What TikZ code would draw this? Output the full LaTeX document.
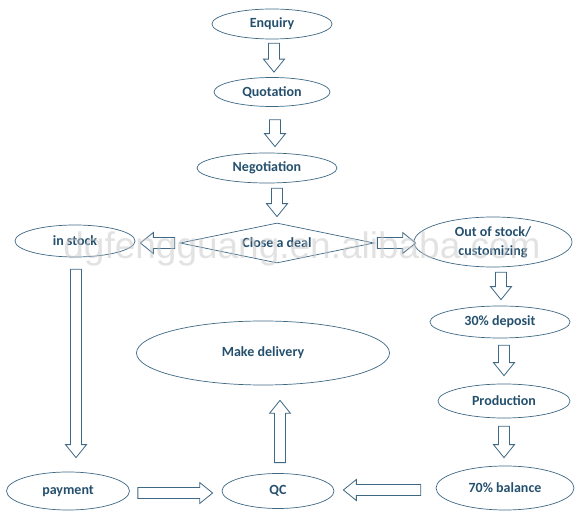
\documentclass[tikz,border=0pt]{standalone}
\usepackage{fontspec}
\setmainfont{Carlito}
\newfontfamily\wmfont{Liberation Sans}
\usetikzlibrary{calc}
\usetikzlibrary{shapes.geometric}

\definecolor{flowtext}{RGB}{36,80,110}
\definecolor{flowline}{RGB}{62,104,132}

% hollow block arrow between two points
\newcommand{\shaftw}{5.5}
\newcommand{\headw}{10.5}
\newcommand{\headl}{13}
\newcommand{\blockarrow}[2]{%
  \path (#1) coordinate (ba-s) (#2) coordinate (ba-e);
  \draw[blockline] let \p1=($(ba-e)-(ba-s)$), \n1={atan2(\y1,\x1)}, \n2={veclen(\x1,\y1)} in
    [shift={(ba-s)}, rotate=\n1]
    (0,-\shaftw) -- ({\n2-\headl},-\shaftw) -- ({\n2-\headl},-\headw) -- (\n2,0)
    -- ({\n2-\headl},\headw) -- ({\n2-\headl},\shaftw) -- (0,\shaftw) -- cycle;}

\begin{document}
\begin{tikzpicture}[x=1pt, y=1pt, line join = miter]
\tikzstyle{stage}=[ellipse, draw=flowline, line width=0.7pt, inner sep=0pt, text=flowtext, font=\fontsize{14}{19}\selectfont\bfseries]
\tikzstyle{deal}=[diamond, aspect=4.8, draw=flowline, line width=0.7pt, inner sep=0pt, text=flowtext, font=\fontsize{14}{17}\selectfont\bfseries]
\tikzstyle{blockline}=[draw=flowline, line width=0.8pt, fill=white]
\useasboundingbox (0,0) rectangle (582,520);

\node[stage, minimum width=120pt, minimum height=30pt] (enquiry) at (272,496) {Enquiry};
\node[stage, minimum width=116pt, minimum height=29pt] (quotation) at (272,428) {Quotation};
\node[stage, minimum width=140pt, minimum height=30pt] (negotiation) at (267,352) {Negotiation};
\node[deal, minimum width=194pt, minimum height=40pt] (close) at (277,277) {Close a deal};
\node[stage, minimum width=120pt, minimum height=32pt] (instock) at (75,279) {in stock};
\node[stage, minimum width=158pt, minimum height=50pt, align=center] (outstock) at (493,278) {Out of stock/\\customizing};
\node[stage, minimum width=140pt, minimum height=32pt] (deposit) at (500,198) {30\% deposit};
\node[stage, minimum width=132pt, minimum height=34pt] (production) at (504,119) {Production};
\node[stage, minimum width=138pt, minimum height=44pt] (balance) at (505,32) {70\% balance};
\node[stage, minimum width=253pt, minimum height=64pt] (delivery) at (263,167) {Make delivery};
\node[stage, minimum width=112pt, minimum height=35pt] (qc) at (278,29) {QC};
\node[stage, minimum width=123pt, minimum height=38pt] (payment) at (68,29) {payment};

\blockarrow{$(enquiry.south)+(2,-4)$}{$(quotation.north)+(2,5)$}
\blockarrow{$(quotation.south)+(3,-13)$}{$(negotiation.north)+(8,6)$}
\blockarrow{$(negotiation.south)+(10,-5)$}{$(close.north)+(0,6)$}
\blockarrow{$(close.west)+(-5,0)$}{$(instock.east)+(5,-2)$}
\blockarrow{$(close.east)+(3,0)$}{$(outstock.west)+(2,-1)$}
\blockarrow{$(instock.south)+(1,-12)$}{$(payment.north)+(8,14)$}
\blockarrow{$(outstock.south)+(8,-5)$}{$(deposit.north)+(1,6)$}
\blockarrow{$(deposit.south)+(4,-7)$}{$(production.north)+(0,8)$}
\blockarrow{$(production.south)+(0,-8)$}{$(balance.north)+(-1,8)$}
\blockarrow{$(payment.east)+(8,-2)$}{$(qc.west)+(-9,-2)$}
\blockarrow{$(balance.west)+(-15,-2)$}{$(qc.east)+(9,1)$}
\blockarrow{$(qc.north)+(2,10.5)$}{$(delivery.south)+(17,-15)$}

%watermark
\node[anchor=base, text=gray!45, opacity=0.5, font=\wmfont\fontsize{37}{40}\selectfont] (mark) at (302,261) {dgfengguang.en.alibaba.com};
\end{tikzpicture}
\end{document}
